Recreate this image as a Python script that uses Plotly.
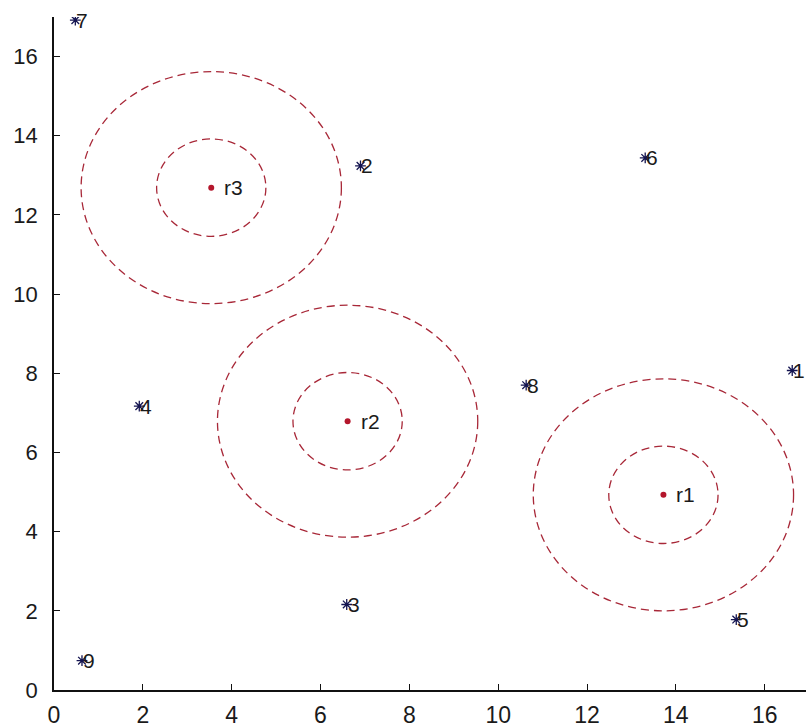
import plotly.graph_objects as go

# Sample points (blue stars) and their labels
point_labels = ["1", "2", "3", "4", "5", "6", "7", "8", "9"]
point_x = [16.62, 6.90, 6.59, 1.92, 15.36, 13.31, 0.48, 10.63, 0.63]
point_y = [8.07, 13.24, 2.16, 7.17, 1.78, 13.44, 16.92, 7.70, 0.74]

# Reference centres (red dots) and their labels
center_labels = ["r1", "r2", "r3"]
center_x = [13.72, 6.61, 3.54]
center_y = [4.93, 6.79, 12.69]

# Radii of the dashed rings drawn around every centre
ring_radii = [1.23, 2.93]

x_ticks = [0, 2, 4, 6, 8, 10, 12, 14, 16]
y_ticks = [0, 2, 4, 6, 8, 10, 12, 14, 16]

ring_color = "#a82838"
point_color = "#141450"
dot_color = "#b4162c"
text_color = "#1a1a1a"
font_family = "Liberation Sans, Arial, sans-serif"

fig = go.Figure()

fig.add_trace(go.Scatter(
    x=point_x, y=point_y, mode="markers",
    marker=dict(symbol="asterisk-open", size=9, color=point_color,
                line=dict(color=point_color, width=1.3)),
    hoverinfo="skip", showlegend=False,
))

fig.add_trace(go.Scatter(
    x=center_x, y=center_y, mode="markers",
    marker=dict(symbol="circle", size=6, color=dot_color),
    hoverinfo="skip", showlegend=False,
))

shapes = []
for cx, cy in zip(center_x, center_y):
    for r in ring_radii:
        shapes.append(dict(
            type="circle", xref="x", yref="y",
            x0=cx - r, x1=cx + r, y0=cy - r, y1=cy + r,
            line=dict(color=ring_color, width=1.3, dash="8px,5px"),
            layer="below",
        ))

annotations = []
for lab, x, y in zip(point_labels, point_x, point_y):
    annotations.append(dict(
        x=x, y=y, xref="x", yref="y", text=lab, showarrow=False,
        xanchor="left", yanchor="middle", xshift=-1,
        font=dict(family=font_family, size=21, color=text_color),
    ))
for lab, x, y in zip(center_labels, center_x, center_y):
    annotations.append(dict(
        x=x, y=y, xref="x", yref="y", text=lab, showarrow=False,
        xanchor="left", yanchor="middle", xshift=11,
        font=dict(family=font_family, size=21, color=text_color),
    ))

fig.update_layout(
    width=806, height=728,
    margin=dict(l=54, r=0, t=17, b=36),
    paper_bgcolor="white", plot_bgcolor="white",
    shapes=shapes, annotations=annotations,
    font=dict(family=font_family, color=text_color),
    xaxis=dict(
        range=[0, 16.93], tickvals=x_ticks, ticktext=[str(v) for v in x_ticks],
        showgrid=False, zeroline=False, showline=True,
        linecolor="#111111", linewidth=1.5,
        ticks="inside", ticklen=6, tickcolor="#111111", tickwidth=1.2,
        tickfont=dict(size=23, family=font_family, color=text_color),
        ticklabelstandoff=4,
    ),
    yaxis=dict(
        range=[0, 17], tickvals=y_ticks, ticktext=[str(v) for v in y_ticks],
        showgrid=False, zeroline=False, showline=True,
        linecolor="#111111", linewidth=1.5,
        ticks="inside", ticklen=6, tickcolor="#111111", tickwidth=1.2,
        tickfont=dict(size=22, family=font_family, color=text_color),
        ticklabelstandoff=10,
    ),
)

fig.write_html("out.html")
